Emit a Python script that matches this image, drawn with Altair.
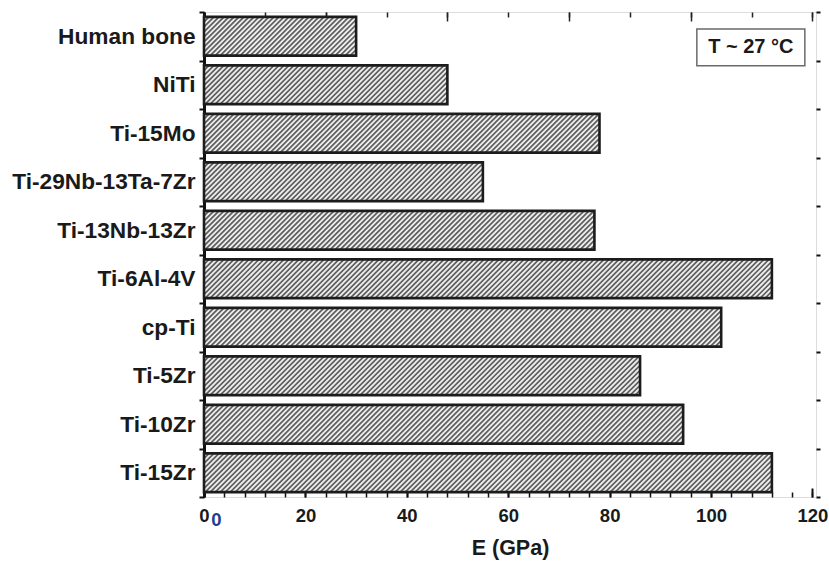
import json
import altair as alt
import pandas as pd

# ---------------- data ----------------
materials = ["Human bone", "NiTi", "Ti-15Mo", "Ti-29Nb-13Ta-7Zr", "Ti-13Nb-13Zr",
             "Ti-6Al-4V", "cp-Ti", "Ti-5Zr", "Ti-10Zr", "Ti-15Zr"]
modulus = [30, 48, 78, 55, 77, 112, 102, 86, 94.5, 112]
x_tick_values = [0, 20, 40, 60, 80, 100, 120]
x_title = "E (GPa)"
note_text = "T ~ 27 °C"

# ---------------- layout ----------------
W, H = 612, 485
XMAX = 120.7
YMIN, YMAX = -0.5, 9.5
HALF = 0.4
px_x = W / XMAX
px_y = H / (YMAX - YMIN)
FONT = "Liberation Sans"

bars = pd.DataFrame({"material": materials, "E": modulus, "idx": list(range(len(materials)))})

# hatch lines (45 degree "///") derived from bar values, clipped to each bar
rows = []
hx = (2 * HALF * px_y) / px_x
step = 5.0 / px_x
for i, v in enumerate(modulus):
    yb, yt = i + HALF, i - HALF
    x0 = -hx
    while x0 < v:
        t0 = max(0.0, -x0 / hx)
        t1 = min(1.0, (v - x0) / hx)
        if t1 > t0:
            rows.append(dict(hx1=x0 + t0 * hx, hx2=x0 + t1 * hx,
                             hy1=yb + t0 * (yt - yb), hy2=yb + t1 * (yt - yb)))
        x0 += step
hatch = pd.DataFrame(rows)

xs = alt.Scale(domain=[0, XMAX], nice=False, zero=False)
ys = alt.Scale(domain=[YMIN, YMAX], nice=False, zero=False, reverse=True)

half_vals = [k * 0.5 - 0.5 for k in range(21)]
bound_vals = [k - 0.5 for k in range(11)]
label_expr = "datum.value % 1 === 0 ? " + json.dumps(materials) + "[datum.value] : ''"

base = alt.Chart(bars).transform_calculate(y1="datum.idx - 0.4", y2="datum.idx + 0.4")

# layer 1: bar background + bottom labels + left labels
fill_layer = base.mark_rect(fill="#efefef", stroke=None).encode(
    x=alt.X("E:Q", scale=xs, axis=alt.Axis(
        orient="bottom", values=x_tick_values, format="d", ticks=False, domain=False,
        grid=False, labelFontSize=18.5, labelFontWeight="bold", labelColor="#1a1a1a",
        labelPadding=9, labelFlush=False, labelOverlap=False,
        title=x_title, titleFontSize=21.5, titleFontWeight="bold", titleColor="#1a1a1a",
        titlePadding=13)),
    x2=alt.datum(0),
    y=alt.Y("y1:Q", scale=ys, axis=alt.Axis(
        orient="left", values=half_vals, labelExpr=label_expr, grid=False,
        domain=True, domainColor="#111", domainWidth=3,
        tickColor="#111", tickWidth=2, tickSize=5,
        tickOpacity={"condition": {"test": "datum.value % 1 === 0", "value": 0}, "value": 1},
        labelFontSize=22.7, labelFontWeight="bold", labelColor="#1a1a1a",
        labelPadding=4, labelFlush=False, labelOverlap=False, labelLimit=300, title=None)),
    y2="y2:Q",
)

# layer 2: hatch lines + bottom major inner ticks + right boundary ticks
hatch_layer = alt.Chart(hatch).mark_rule(color="#5e5e5e", strokeWidth=1.7).encode(
    x=alt.X("hx1:Q", scale=xs, axis=alt.Axis(
        orient="bottom", values=x_tick_values, labels=False, domain=False, grid=False,
        ticks=True, tickSize=9, offset=-9, tickColor="#111", tickWidth=2, title=None)),
    x2="hx2:Q",
    y=alt.Y("hy1:Q", scale=ys, axis=alt.Axis(
        orient="right", values=bound_vals, labels=False, domain=False, grid=False,
        ticks=True, tickSize=4, tickColor="#111", tickWidth=2, title=None)),
    y2="hy2:Q",
)

# layer 3: bar outlines + top short inner ticks
outline_layer = base.mark_rect(fillOpacity=0, stroke="#1c1c1c", strokeWidth=2.6).encode(
    x=alt.X("E:Q", scale=xs, axis=alt.Axis(
        orient="top", values=[12 * k for k in range(11)], labels=False, domain=False,
        grid=False, ticks=True, tickSize=5, offset=-5, tickColor="#222", tickWidth=1.5,
        title=None)),
    x2=alt.datum(0),
    y=alt.Y("y1:Q", scale=ys, axis=None),
    y2="y2:Q",
)

# layer 4: annotation box + top long inner ticks
box_layer = alt.Chart(bars).mark_rect(fill="white", stroke="#6a6a6a", strokeWidth=1.5).encode(
    x=alt.X(datum=97.2, scale=xs, axis=alt.Axis(
        orient="top", values=[24 * k for k in range(6)], labels=False, domain=False,
        grid=False, ticks=True, tickSize=9, offset=-9, tickColor="#222", tickWidth=1.5,
        title=None)),
    x2=alt.datum(118.5),
    y=alt.Y(datum=-0.15, scale=ys, axis=None),
    y2=alt.datum(0.61),
).transform_filter("datum.idx === 0")

note_layer = alt.Chart(bars).mark_text(
    text=note_text, font=FONT, fontSize=20, fontWeight="bold", color="#1a1a1a",
    align="center", baseline="middle"
).encode(
    x=alt.X(datum=107.85, scale=xs, axis=None),
    y=alt.Y(datum=0.23, scale=ys, axis=None),
).transform_filter("datum.idx === 0")

# layer 5: stray second "0" label + bottom minor inner ticks
zero_layer = alt.Chart(bars).mark_text(
    text="0", font=FONT, fontSize=18.5, fontWeight="bold", color="#22408a",
    align="center", baseline="top", dx=12.5
).encode(
    x=alt.X(datum=0, scale=xs, axis=alt.Axis(
        orient="bottom", values=[4 * k for k in range(31)], labels=False, domain=False,
        grid=False, ticks=True, tickSize=5, offset=-5, tickColor="#111", tickWidth=1.5,
        title=None)),
    y=alt.value(H + 14),
).transform_filter("datum.idx === 0")

chart = alt.layer(
    fill_layer, hatch_layer, outline_layer, box_layer, note_layer, zero_layer
).resolve_axis(
    x="independent", y="independent"
).properties(
    width=W, height=H,
    autosize=alt.AutoSizeParams(type="none"),
    padding={"left": 204, "top": 12, "right": 13, "bottom": 73},
).configure_view(
    stroke="#111", strokeWidth=2
).configure_axis(
    labelFont=FONT, titleFont=FONT
).configure(
    background="white"
)

chart.save("out.html", embed_options={"renderer": "svg", "actions": False})
